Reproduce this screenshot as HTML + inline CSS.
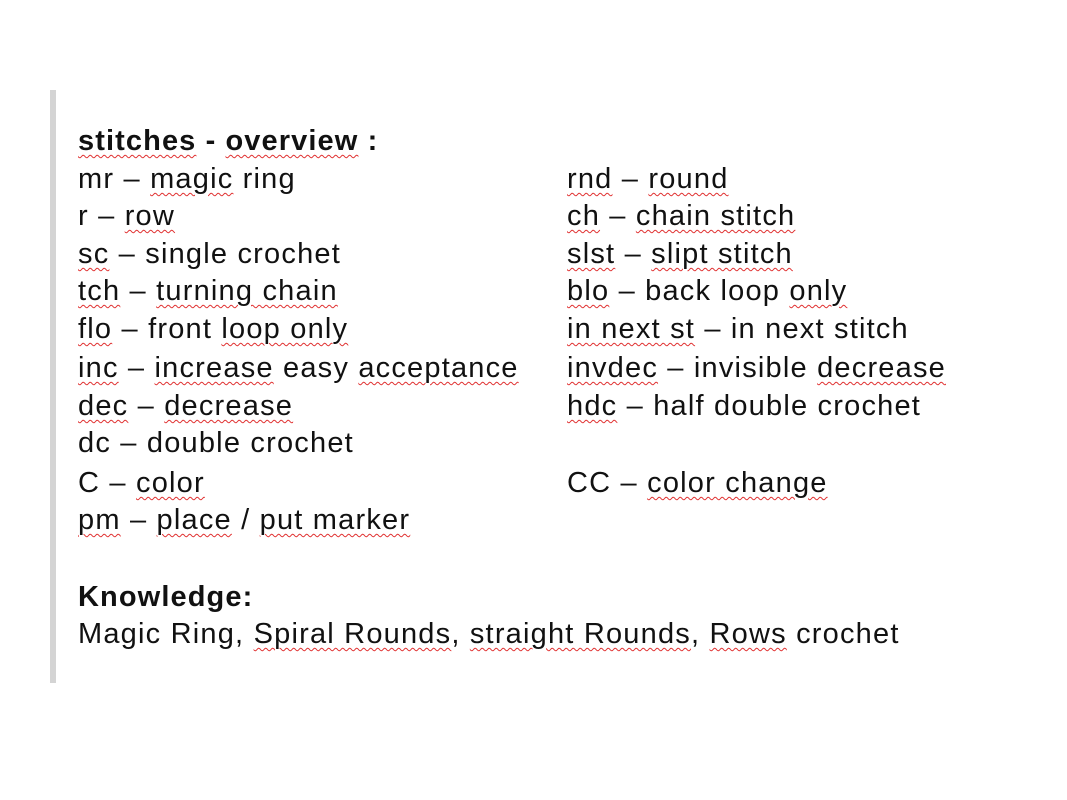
<!DOCTYPE html>
<html><head><meta charset="utf-8"><style>
html,body{margin:0;padding:0;background:#fff;}
body{width:1067px;height:800px;position:relative;overflow:hidden;font-family:"Liberation Sans",Arial,sans-serif;color:#111;}
.bar{position:absolute;left:50px;top:90px;width:6px;height:593px;background:#d4d4d4;}
.l{position:absolute;font-size:29px;line-height:28px;white-space:nowrap;letter-spacing:1.2px;}
.w{text-decoration:underline wavy #e03030;text-decoration-thickness:1px;text-underline-offset:4px;}
b{font-weight:bold;letter-spacing:1.1px;}
</style></head><body>
<div class="bar"></div>
<div class="l" style="left:78px;top:127px"><b><span class="w">stitches</span> - <span class="w">overview</span> :</b></div>
<div class="l" style="left:78px;top:165px">mr – <span class="w">magic</span> ring</div>
<div class="l" style="left:78px;top:202px">r – <span class="w">row</span></div>
<div class="l" style="left:78px;top:240px"><span class="w">sc</span> – single crochet</div>
<div class="l" style="left:78px;top:277px"><span class="w">tch</span> – <span class="w">turning chain</span></div>
<div class="l" style="left:78px;top:315px"><span class="w">flo</span> – front <span class="w">loop only</span></div>
<div class="l" style="left:78px;top:354px"><span class="w">inc</span> – <span class="w">increase</span> easy <span class="w">acceptance</span></div>
<div class="l" style="left:78px;top:392px"><span class="w">dec</span> – <span class="w">decrease</span></div>
<div class="l" style="left:78px;top:429px">dc – double crochet</div>
<div class="l" style="left:78px;top:469px">C – <span class="w">color</span></div>
<div class="l" style="left:78px;top:506px"><span class="w">pm</span> – <span class="w">place</span> / <span class="w">put marker</span></div>
<div class="l" style="left:567px;top:165px"><span class="w">rnd</span> – <span class="w">round</span></div>
<div class="l" style="left:567px;top:202px"><span class="w">ch</span> – <span class="w">chain stitch</span></div>
<div class="l" style="left:567px;top:240px"><span class="w">slst</span> – <span class="w">slipt stitch</span></div>
<div class="l" style="left:567px;top:277px"><span class="w">blo</span> – back loop <span class="w">only</span></div>
<div class="l" style="left:567px;top:315px"><span class="w">in next st</span> – in next stitch</div>
<div class="l" style="left:567px;top:354px"><span class="w">invdec</span> – invisible <span class="w">decrease</span></div>
<div class="l" style="left:567px;top:392px"><span class="w">hdc</span> – half double crochet</div>
<div class="l" style="left:567px;top:469px">CC – <span class="w">color change</span></div>
<div class="l" style="left:78px;top:583px"><b>Knowledge:</b></div>
<div class="l" style="left:78px;top:620px">Magic Ring, <span class="w">Spiral Rounds</span>, <span class="w">straight Rounds</span>, <span class="w">Rows</span> crochet</div>
</body></html>
